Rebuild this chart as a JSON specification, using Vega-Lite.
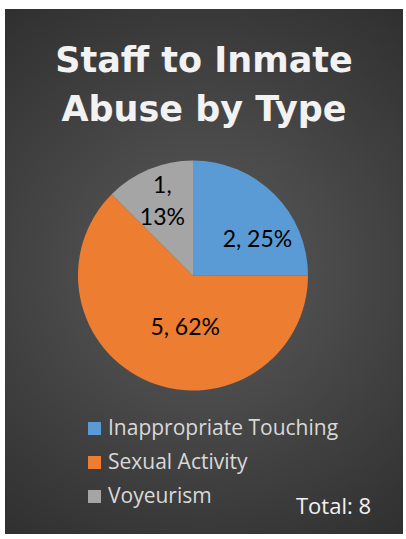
{
  "$schema": "https://vega.github.io/schema/vega-lite/v6.json",
  "width": 398,
  "height": 525,
  "autosize": {"type": "none"},
  "padding": {"left": 5, "top": 9, "right": 3, "bottom": 5},
  "background": "white",
  "title": {
    "text": ["Staff to Inmate", "Abuse by Type"],
    "font": "DejaVu Sans",
    "fontWeight": "bold",
    "fontSize": 35,
    "color": "#f2f2f2",
    "lineHeight": 49,
    "baseline": "alphabetic",
    "anchor": "middle",
    "frame": "group",
    "offset": -147
  },
  "config": {"view": {"stroke": null}},
  "data": {
    "values": [
      {"cat": "Inappropriate Touching", "value": 2, "label": "2, 25%"},
      {"cat": "Sexual Activity", "value": 5, "label": "5, 62%"},
      {"cat": "Voyeurism", "value": 1, "label": "1,\n13%"}
    ]
  },
  "layer": [
    {
      "data": {"values": [{"bg": 1}]},
      "mark": {
        "type": "rect",
        "fill": {
          "gradient": "radial",
          "x1": 0.5, "y1": 0.5, "r1": 0,
          "x2": 0.5, "y2": 0.5, "r2": 0.75,
          "stops": [
            {"offset": 0, "color": "#5b5b5b"},
            {"offset": 1, "color": "#272727"}
          ]
        }
      },
      "encoding": {}
    },
    {
      "mark": {"type": "arc", "outerRadius": 115, "xOffset": -11, "yOffset": 4, "stroke": null},
      "encoding": {
        "theta": {"field": "value", "type": "quantitative", "stack": true},
        "order": {"field": "cat", "sort": "ascending"},
        "color": {
          "field": "cat",
          "type": "nominal",
          "scale": {
            "domain": ["Inappropriate Touching", "Sexual Activity", "Voyeurism"],
            "range": ["#5B9BD5", "#ED7D31", "#A5A5A5"]
          },
          "legend": {
            "orient": "none",
            "legendX": 79,
            "legendY": 409,
            "padding": 0,
            "symbolType": "square",
            "symbolSize": 169,
            "symbolStrokeWidth": 0,
            "labelFont": "Open Sans",
            "labelFontSize": 21,
            "labelColor": "#d9d9d9",
            "labelOffset": 3,
            "labelLimit": 400,
            "rowPadding": 12,
            "title": "Total: 8",
            "titleOrient": "right",
            "titleAnchor": "end",
            "titleBaseline": "middle",
            "titleFont": "Open Sans",
            "titleFontSize": 22,
            "titleFontWeight": "normal",
            "titleColor": "#f2f2f2",
            "titlePadding": -42
          }
        }
      }
    },
    {
      "mark": {"type": "text", "radius": 60, "dx": 22, "dy": 7, "xOffset": -11, "yOffset": 4, "font": "Lato", "fontSize": 23, "fill": "#000000"},
      "encoding": {
        "theta": {"field": "value", "type": "quantitative", "stack": true},
        "order": {"field": "cat", "sort": "ascending"},
        "text": {"condition": {"test": "datum.cat === 'Inappropriate Touching'", "field": "label"}, "value": ""}
      }
    },
    {
      "mark": {"type": "text", "radius": 57, "dx": 14, "dy": 0, "xOffset": -11, "yOffset": 4, "font": "Lato", "fontSize": 23, "fill": "#000000"},
      "encoding": {
        "theta": {"field": "value", "type": "quantitative", "stack": true},
        "order": {"field": "cat", "sort": "ascending"},
        "text": {"condition": {"test": "datum.cat === 'Sexual Activity'", "field": "label"}, "value": ""}
      }
    },
    {
      "mark": {"type": "text", "radius": 80, "dx": 0, "dy": -16, "xOffset": -11, "yOffset": 4, "font": "Lato", "fontSize": 23, "fill": "#000000", "lineBreak": "\n", "lineHeight": 32},
      "encoding": {
        "theta": {"field": "value", "type": "quantitative", "stack": true},
        "order": {"field": "cat", "sort": "ascending"},
        "text": {"condition": {"test": "datum.cat === 'Voyeurism'", "field": "label"}, "value": ""}
      }
    }
  ]
}
